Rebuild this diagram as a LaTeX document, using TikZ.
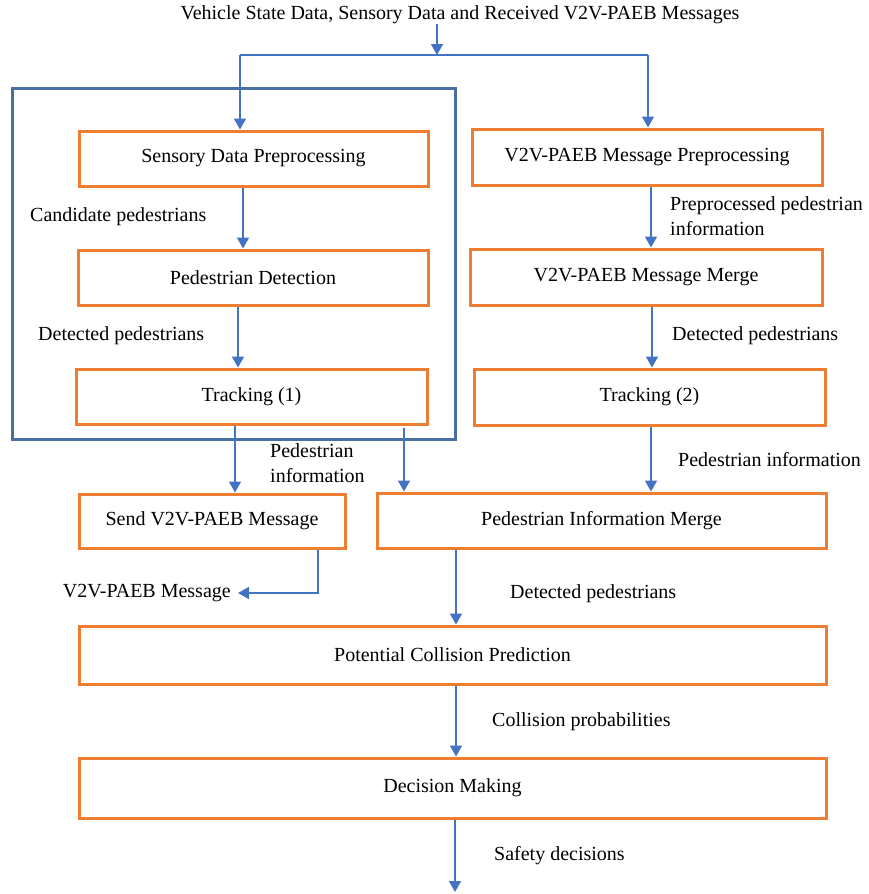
\documentclass[tikz,border=0pt]{standalone}
\usepackage{fontspec}
\setmainfont{Liberation Serif}
\usetikzlibrary{arrows.meta}
\definecolor{boxorange}{RGB}{237,125,49}
\definecolor{flowblue}{RGB}{68,114,196}
\definecolor{frameblue}{RGB}{72,112,160}
\begin{document}
\begin{tikzpicture}[x=1pt,y=-1pt,
  font=\fontsize{20}{24.5}\selectfont,
  stage/.style={draw=boxorange,line width=3pt,fill=white,inner sep=0pt},
  flow/.style={draw=flowblue,line width=1.6pt,-{Triangle[width=12pt,length=11pt]}},
  plain/.style={draw=flowblue,line width=1.6pt},
  lbl/.style={inner sep=0pt,anchor=west,align=left}]
\useasboundingbox (0,0) rectangle (869,894);

% outer frame around the on-board detection chain
\draw[frameblue,line width=3pt] (12,88) rectangle (455,439);
\coordinate (frameS) at (404,428);

% processing stages
\node[stage,minimum width=349pt,minimum height=55pt] (sdp) at (253.5,158.5) {Sensory Data Preprocessing};
\node[stage,minimum width=350pt,minimum height=56pt] (vmp) at (647,157) {V2V-PAEB Message Preprocessing};
\node[stage,minimum width=350pt,minimum height=55pt] (pd) at (253,277.5) {Pedestrian Detection};
\node[stage,minimum width=352pt,minimum height=56pt] (vmm) at (646,277) {V2V-PAEB Message Merge};
\node[stage,minimum width=351pt,minimum height=55pt] (tr1) at (251.5,396.5) {Tracking (1)};
\node[stage,minimum width=351pt,minimum height=56pt] (tr2) at (649.5,397) {Tracking (2)};
\node[stage,minimum width=266pt,minimum height=54pt] (send) at (212,521) {Send V2V-PAEB Message};
\node[stage,minimum width=449pt,minimum height=55pt] (pim) at (601.5,520.5) {Pedestrian Information Merge};
\node[stage,minimum width=747pt,minimum height=58pt] (pcp) at (452.5,655) {Potential Collision Prediction};
\node[stage,minimum width=747pt,minimum height=60pt] (dm) at (452.5,788) {Decision Making};

% inputs and outputs
\node[inner sep=0pt] (in) at (460,15) {Vehicle State Data, Sensory Data and Received V2V-PAEB Messages};
\coordinate (split) at (437,55);
\coordinate (splitL) at (240,55);
\coordinate (splitR) at (648,55);
\node[lbl,anchor=east] (msgout) at (231,593) {V2V-PAEB Message};
\coordinate (sendturn) at (318,593);
\coordinate (msgtip) at (238,593);
\coordinate (out) at (455,892);

% edge labels
\node[lbl] (l1) at (30,217) {Candidate pedestrians};
\node[lbl] (l2) at (670,216) {Preprocessed pedestrian\\information};
\node[lbl] (l3) at (38,336) {Detected pedestrians};
\node[lbl] (l4) at (672,336) {Detected pedestrians};
\node[lbl] (l5) at (270,463) {Pedestrian\\information};
\node[lbl] (l6) at (678,460) {Pedestrian information};
\node[lbl] (l7) at (510,594) {Detected pedestrians};
\node[lbl] (l8) at (492,722) {Collision probabilities};
\node[lbl] (l9) at (494,856) {Safety decisions};

% connectors
\draw[flow] (in.south -| split) -- (split);
\draw[plain] (splitL) -- (splitR);
\draw[flow] (splitL) -- (splitL |- sdp.north);
\draw[flow] (splitR) -- (splitR |- vmp.north);
\draw[flow] ([xshift=-10.5pt]sdp.south) -- ([xshift=-10.5pt]sdp.south |- pd.north);
\draw[flow] ([xshift=4pt]vmp.south) -- ([xshift=4pt]vmp.south |- vmm.north);
\draw[flow] ([xshift=-15pt]pd.south) -- ([xshift=-15pt]pd.south |- tr1.north);
\draw[flow] ([xshift=6pt]vmm.south) -- ([xshift=6pt]vmm.south |- tr2.north);
\draw[flow] ([xshift=-16.5pt]tr1.south) -- ([xshift=-16.5pt]tr1.south |- send.north);
\draw[flow] (frameS) -- (frameS |- pim.north);
\draw[flow] ([xshift=1.5pt]tr2.south) -- ([xshift=1.5pt]tr2.south |- pim.north);
\draw[flow] (send.south -| sendturn) -- (sendturn) -- (msgtip);
\draw[flow] ([xshift=-145.5pt]pim.south) -- ([xshift=-145.5pt]pim.south |- pcp.north);
\draw[flow] ([xshift=3.5pt]pcp.south) -- ([xshift=3.5pt]pcp.south |- dm.north);
\draw[flow] (dm.south -| out) -- (out);
\end{tikzpicture}
\end{document}
